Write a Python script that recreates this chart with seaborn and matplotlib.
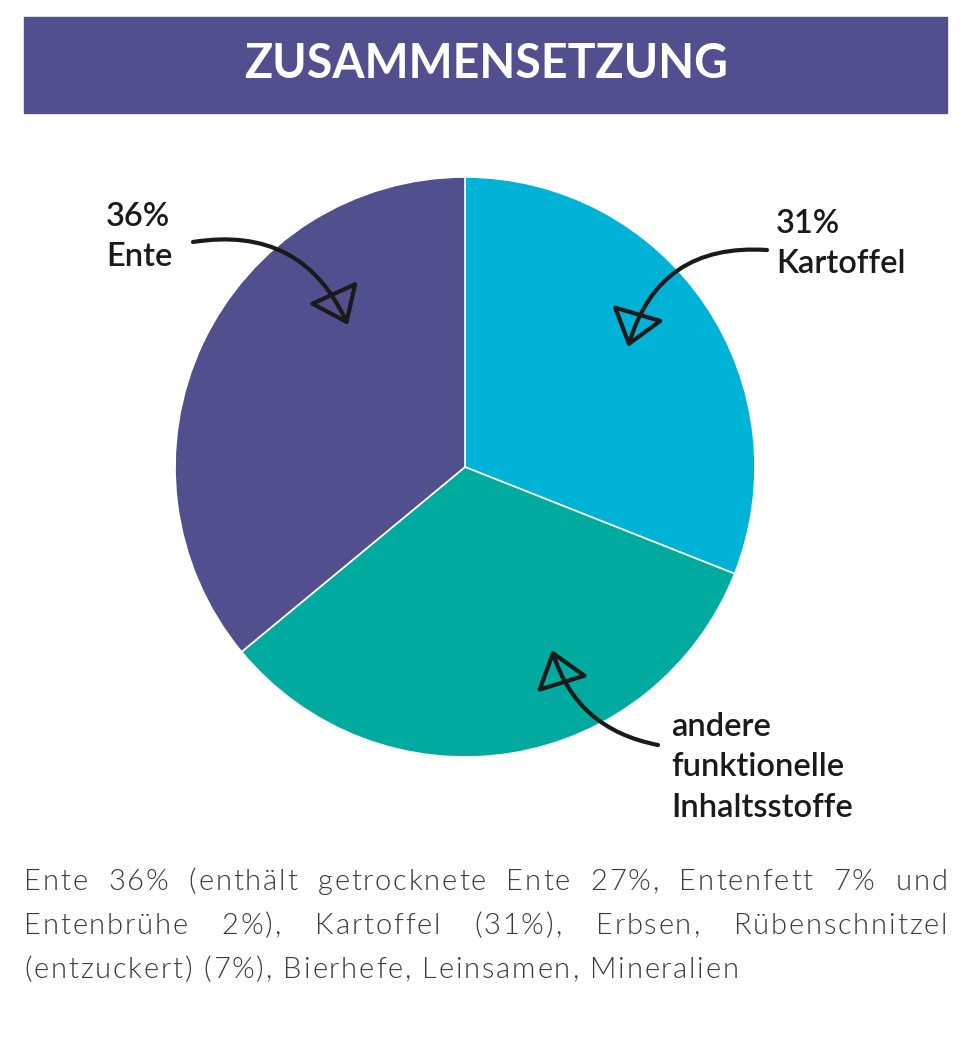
import matplotlib
matplotlib.use("Agg")
import matplotlib.pyplot as plt
from matplotlib.patches import Rectangle
import seaborn as sns

# ---- data ----
categories = ["Kartoffel", "andere funktionelle Inhaltsstoffe", "Ente"]
shares = [31, 33, 36]
slice_colors = ["#00B2D6", "#00AA9F", "#524F8F"]
slice_labels = ["31%\nKartoffel", "andere\nfunktionelle\nInhaltsstoffe", "36%\nEnte"]
title_text = "ZUSAMMENSETZUNG"
body_lines = [
    "Ente 36% (enthält getrocknete Ente 27%, Entenfett 7% und",
    "Entenbrühe 2%), Kartoffel (31%), Erbsen, Rübenschnitzel",
    "(entzuckert) (7%), Bierhefe, Leinsamen, Mineralien",
]

sns.set_theme(style="white")
plt.rcParams["font.family"] = ["Lato", "DejaVu Sans"]
palette = sns.color_palette(slice_colors)

W, H = 971, 1040
fig = plt.figure(figsize=(W / 100, H / 100), dpi=100)
fig.patch.set_facecolor("white")

def fx(px):
    return px / W

def fy(py):
    return 1 - py / H

# header band
fig.patches.append(Rectangle((fx(24), fy(113)), 923 / W, 96 / H,
                             transform=fig.transFigure, color="#524F8F", zorder=0))
fig.text(fx(486), fy(64), title_text, ha="center", va="center", color="white",
         fontsize=33.5, fontweight="bold")

# pie axes: center (465,467), radius 290 px
cx, cy, r = 465, 467, 290
ax = fig.add_axes([fx(cx - r), fy(cy + r), 2 * r / W, 2 * r / H])
wedges, _ = ax.pie(shares, colors=palette, startangle=90, counterclock=False,
                   radius=1, wedgeprops=dict(edgecolor="white", linewidth=1.2))
ax.set_xlim(-1, 1)
ax.set_ylim(-1, 1)
ax.set_aspect("equal")
ax.axis("off")

def d(px, py):
    return ((px - cx) / r, (cy - py) / r)

# label text positions (pixel, top-left) and arrows
label_pos = [(776, 209), (671, 712), (106, 202)]
arrow_start = [(767, 250), (658, 745), (193, 242)]
arrow_end = [(628, 347), (552, 650), (348, 325)]
arrow_rad = [0.4, -0.3, -0.38]

for lab, lp, s, e, rad in zip(slice_labels, label_pos, arrow_start, arrow_end, arrow_rad):
    x, y = d(*lp)
    ax.text(x, y, lab, ha="left", va="top", fontsize=23.5, fontweight="semibold",
            color="#1a1a1a", linespacing=1.43, clip_on=False)
    ax.annotate("", xy=d(*e), xytext=d(*s), annotation_clip=False,
                arrowprops=dict(arrowstyle="-|>,head_length=0.85,head_width=0.65",
                                fc="none", ec="#1a1a1a", lw=3.0, mutation_scale=26,
                                joinstyle="round", capstyle="round",
                                connectionstyle=f"arc3,rad={rad}", shrinkA=0, shrinkB=0))

# justified body text with letter tracking
renderer = fig.canvas.get_renderer()
left, right = 24, 947
baselines = [890, 934, 978]
track = 1.8
body_kw = dict(fontsize=21, fontweight=300, color="#3a3a3a", va="baseline", ha="left")

def text_width(s):
    if not s:
        return 0.0
    t = fig.text(0, 0, s, **body_kw)
    w = t.get_window_extent(renderer).width
    t.remove()
    return w

def word_layout(word):
    offs = [text_width(word[:i]) + i * track for i in range(len(word))]
    total = text_width(word) + (len(word) - 1) * track
    return offs, total

space_w = text_width("a b") - text_width("ab") + track

def draw_word(word, x0, base, offs):
    for ch, o in zip(word, offs):
        fig.text(fx(x0 + o), fy(base), ch, **body_kw)

for i, (line, base) in enumerate(zip(body_lines, baselines)):
    words = line.split(" ")
    layouts = [word_layout(w) for w in words]
    if i == len(body_lines) - 1:
        gap = space_w + track
    else:
        gap = (right - left - sum(l[1] for l in layouts)) / (len(words) - 1)
    x = left
    for w, (offs, total) in zip(words, layouts):
        draw_word(w, x, base, offs)
        x += total + gap

fig.savefig("out.png", dpi=100)
